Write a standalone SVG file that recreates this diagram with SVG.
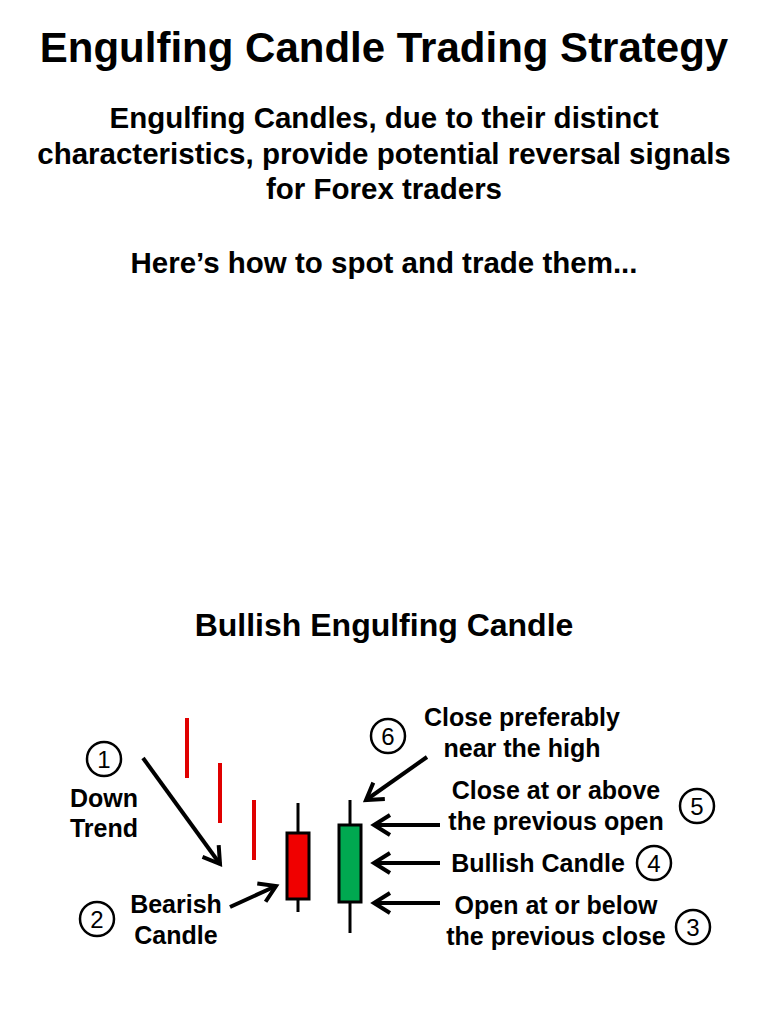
<svg xmlns="http://www.w3.org/2000/svg" width="768" height="1024" viewBox="0 0 768 1024">
<style>
text{font-family:"Liberation Sans",Arial,sans-serif;font-weight:bold;fill:#000}
.t{font-size:25px}
.c{fill:#fff;stroke:#000;stroke-width:2.5}
.n{font-size:24px;font-weight:normal}
.a{stroke:#000;stroke-width:4;fill:none;marker-end:url(#ah)}
.r{stroke:#e00000;stroke-width:4}
</style>
<defs><marker id="ah" markerWidth="6" markerHeight="6" refX="4.5" refY="3" orient="auto" markerUnits="strokeWidth"><path d="M0.5,0.5 L4.5,3 L0.5,5.5" fill="none" stroke="#000" stroke-width="1"/></marker></defs>
<rect width="768" height="1024" fill="#fff"/>
<text x="384" y="62" font-size="42" text-anchor="middle">Engulfing Candle Trading Strategy</text>
<g font-size="29.5" text-anchor="middle">
<text x="384" y="128">Engulfing Candles, due to their distinct</text>
<text x="384" y="164">characteristics, provide potential reversal signals</text>
<text x="384" y="199">for Forex traders</text>
<text x="384" y="273">Here’s how to spot and trade them...</text>
</g>
<text x="384" y="636" font-size="32" text-anchor="middle">Bullish Engulfing Candle</text>
<g id="trend"><line class="r" x1="187" y1="718" x2="187" y2="778"/><line class="r" x1="220" y1="763" x2="220" y2="823"/><line class="r" x1="254" y1="800" x2="254" y2="860"/></g>
<g id="bear"><line x1="298" y1="803" x2="298" y2="912" stroke="#000" stroke-width="3"/><rect x="287" y="833" width="22" height="66" fill="#f00000" stroke="#000" stroke-width="3"/></g>
<g id="bull"><line x1="350" y1="800" x2="350" y2="933" stroke="#000" stroke-width="3"/><rect x="339" y="825" width="22" height="77" fill="#00a850" stroke="#000" stroke-width="3"/></g>
<g id="connectors">
<line class="a" x1="143" y1="758" x2="220" y2="864"/>
<line class="a" x1="230" y1="907" x2="276" y2="886"/>
<line class="a" x1="427" y1="757" x2="366" y2="800"/>
<line class="a" x1="440" y1="825" x2="374" y2="825"/>
<line class="a" x1="440" y1="863" x2="374" y2="863"/>
<line class="a" x1="440" y1="903" x2="374" y2="903"/>
</g>
<g id="n1"><circle class="c" cx="104" cy="759" r="17"/><text class="n" x="104" y="768" text-anchor="middle">1</text><text class="t" x="104" y="807" text-anchor="middle">Down</text><text class="t" x="104" y="837" text-anchor="middle">Trend</text></g>
<g id="n2"><circle class="c" cx="97" cy="919" r="17"/><text class="n" x="97" y="928" text-anchor="middle">2</text><text class="t" x="176" y="913" text-anchor="middle">Bearish</text><text class="t" x="176" y="944" text-anchor="middle">Candle</text></g>
<g id="n6"><circle class="c" cx="388" cy="736" r="17"/><text class="n" x="388" y="745" text-anchor="middle">6</text><text class="t" x="522" y="726" text-anchor="middle">Close preferably</text><text class="t" x="522" y="757" text-anchor="middle">near the high</text></g>
<g id="n5"><circle class="c" cx="697" cy="806" r="17"/><text class="n" x="697" y="815" text-anchor="middle">5</text><text class="t" x="556" y="799" text-anchor="middle">Close at or above</text><text class="t" x="556" y="830" text-anchor="middle">the previous open</text></g>
<g id="n4"><circle class="c" cx="654" cy="863" r="17"/><text class="n" x="654" y="872" text-anchor="middle">4</text><text class="t" x="538" y="872" text-anchor="middle">Bullish Candle</text></g>
<g id="n3"><circle class="c" cx="693" cy="927" r="17"/><text class="n" x="693" y="936" text-anchor="middle">3</text><text class="t" x="556" y="914" text-anchor="middle">Open at or below</text><text class="t" x="556" y="945" text-anchor="middle">the previous close</text></g>
</svg>
